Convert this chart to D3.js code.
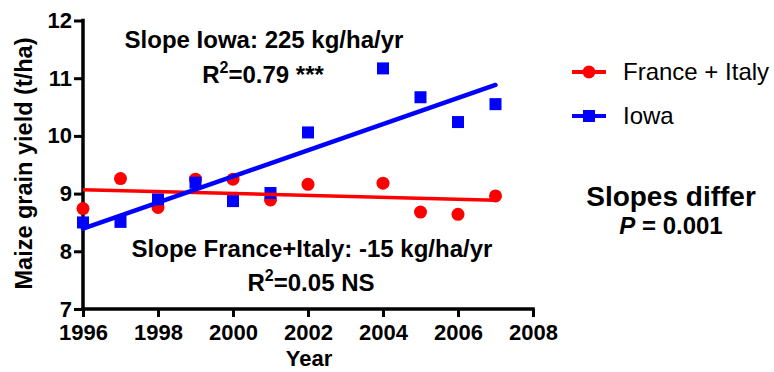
<!DOCTYPE html>
<html>
<head>
    <meta charset="utf-8">
    <title>Maize grain yield</title>
    <script src="https://d3js.org/d3.v7.min.js"></script>
    <style>
        body { margin: 0; background: #fff; }
        svg { display: block; font-family: "Liberation Sans", Arial, sans-serif; }
    </style>
</head>
<body>
    <svg width="774" height="372"></svg>
    <script>
        // values (t/ha), 2003 missing in both series
        const yearsFI = [1996, 1997, 1998, 1999, 2000, 2001, 2002, 2004, 2005, 2006, 2007];
        const yieldFI = [8.74, 9.26, 8.76, 9.25, 9.25, 8.89, 9.16, 9.18, 8.68, 8.64, 8.96];
        const yearsIowa = [1996, 1997, 1998, 1999, 2000, 2001, 2002, 2004, 2005, 2006, 2007];
        const yieldIowa = [8.50, 8.51, 8.90, 9.19, 8.87, 9.01, 10.06, 11.17, 10.67, 10.24, 10.55];
        const xTicks = [1996, 1998, 2000, 2002, 2004, 2006, 2008];
        const yTicks = [7, 8, 9, 10, 11, 12];
        const seriesNames = ["France + Italy", "Iowa"];
        const red = "#ff0000", blue = "#0000ff";

        const svg = d3.select("svg");
        const x = d3.scaleLinear().domain([1996, 2008]).range([83, 533]);
        const y = d3.scaleLinear().domain([7, 12]).range([309, 20.5]);

        // least squares fit
        function fit(xs, ys) {
            const mx = d3.mean(xs), my = d3.mean(ys);
            let num = 0, den = 0;
            xs.forEach((v, i) => { num += (v - mx) * (ys[i] - my); den += (v - mx) * (v - mx); });
            const b = num / den;
            return v => my + b * (v - mx);
        }

        // axes
        const xAxis = svg.append("g").attr("transform", "translate(0,309)")
            .call(d3.axisBottom(x).tickValues(xTicks).tickFormat(d3.format("d")).tickSize(8).tickPadding(7));
        const yAxis = svg.append("g").attr("transform", "translate(83,0)")
            .call(d3.axisLeft(y).tickValues(yTicks).tickFormat(d3.format("d")).tickSize(9).tickPadding(2));
        [xAxis, yAxis].forEach(a => {
            a.select(".domain").attr("stroke", "#000").attr("stroke-width", 3.5).attr("stroke-linecap", "square");
            a.selectAll(".tick line").attr("stroke", "#000").attr("stroke-width", 3);
            a.selectAll(".tick text").attr("fill", "#000").attr("font-size", 22).attr("font-weight", "bold")
                .attr("font-family", "Liberation Sans, Arial, sans-serif");
        });
        xAxis.select(".domain").attr("d", "M83,0H533");
        yAxis.select(".domain").attr("d", "M0,309V20.5");

        svg.append("text").attr("x", 309).attr("y", 366).attr("text-anchor", "middle")
            .attr("font-size", 22).attr("font-weight", "bold").text("Year");
        svg.append("text").attr("transform", "translate(32,163.5) rotate(-90)").attr("text-anchor", "middle")
            .attr("font-size", 23.5).attr("font-weight", "bold").text("Maize grain yield (t/ha)");

        // points
        svg.append("g").selectAll("circle").data(yearsFI).join("circle")
            .attr("cx", d => x(d)).attr("cy", (d, i) => y(yieldFI[i])).attr("r", 6.5).attr("fill", red);
        svg.append("g").selectAll("rect").data(yearsIowa).join("rect")
            .attr("x", d => x(d) - 6).attr("y", (d, i) => y(yieldIowa[i]) - 6)
            .attr("width", 12).attr("height", 12).attr("fill", blue);

        // regression lines
        const fFI = fit(yearsFI, yieldFI), fIowa = fit(yearsIowa, yieldIowa);
        const ext = d3.extent(yearsFI);
        svg.append("line").attr("x1", x(ext[0])).attr("x2", x(ext[1]))
            .attr("y1", y(fFI(ext[0]))).attr("y2", y(fFI(ext[1])))
            .attr("stroke", red).attr("stroke-width", 3.5);
        const extI = d3.extent(yearsIowa);
        svg.append("line").attr("x1", x(extI[0])).attr("x2", x(extI[1]))
            .attr("y1", y(fIowa(extI[0]))).attr("y2", y(fIowa(extI[1])))
            .attr("stroke", blue).attr("stroke-width", 4.5).attr("stroke-linecap", "round");

        // annotations
        function note(cx, by, text) {
            return svg.append("text").attr("x", cx).attr("y", by).attr("text-anchor", "middle")
                .attr("font-size", 24).attr("font-weight", "bold").text(text);
        }
        function r2(cx, by, rest) {
            const t = svg.append("text").attr("x", cx).attr("y", by).attr("text-anchor", "middle")
                .attr("font-size", 24).attr("font-weight", "bold");
            t.append("tspan").text("R");
            t.append("tspan").attr("font-size", 16).attr("dy", -10).text("2");
            t.append("tspan").attr("dy", 10).text(rest);
        }
        note(264, 48, "Slope Iowa: 225 kg/ha/yr");
        r2(263, 83, "=0.79 ***");
        note(312, 257, "Slope France+Italy: -15 kg/ha/yr");
        r2(311, 291, "=0.05 NS");

        // legend
        const legend = svg.append("g");
        [[red, 72], [blue, 116]].forEach(([c, ly], i) => {
            legend.append("line").attr("x1", 572).attr("x2", 606).attr("y1", ly).attr("y2", ly)
                .attr("stroke", c).attr("stroke-width", 4);
            if (i === 0) legend.append("circle").attr("cx", 589).attr("cy", ly).attr("r", 6.5).attr("fill", c);
            else legend.append("rect").attr("x", 583).attr("y", ly - 6).attr("width", 12).attr("height", 12).attr("fill", c);
            legend.append("text").attr("x", 623).attr("y", ly + 8).attr("font-size", 24).text(seriesNames[i]);
        });

        svg.append("text").attr("x", 671).attr("y", 206).attr("text-anchor", "middle")
            .attr("font-size", 28).attr("font-weight", "bold").text("Slopes differ");
        const p = svg.append("text").attr("x", 671).attr("y", 234).attr("text-anchor", "middle")
            .attr("font-size", 24).attr("font-weight", "bold");
        p.append("tspan").attr("font-style", "italic").text("P");
        p.append("tspan").text(" = 0.001");
    </script>
</body>
</html>
